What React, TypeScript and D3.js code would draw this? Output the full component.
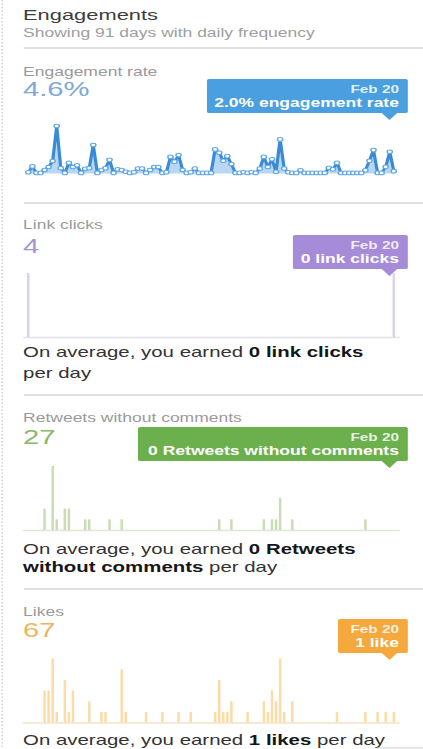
import * as d3 from "d3";

// The reference screenshot is stretched horizontally, so we draw in a narrower
// viewBox and let the svg stretch it back to 423px.
const VW = 290;
const VH = 749;

const DAY_COUNT = 91;
const lastDay = "Feb 20";

// Engagement rate (%) for each of the 91 days
const engagementRate = [
  1.0, 6.0, 0.5, 0.5, 3.0, 5.5, 10.5, 40, 4.5, 0.5,
  9.0, 5.5, 7.0, 0.5, 4.0, 4.5, 24.0, 0.5, 3.0, 4.5,
  11.5, 0.5, 3.5, 3.0, 1.5, 0.5, 1.0, 4.2, 4.2, 0.5,
  3.0, 5.5, 5.5, 0.5, 1.0, 14.0, 10.0, 15.5, 3.0, 0.5,
  1.0, 4.2, 0.5, 0.5, 0.5, 0.5, 20.3, 17.5, 10.7, 14.6,
  8.0, 0.5, 0.5, 1.0, 0.5, 1.0, 0.5, 4.2, 14.0, 5.5,
  12.0, 1.5, 28.7, 4.2, 1.0, 0.5, 0.5, 2.8, 0.5, 0.5,
  0.5, 0.5, 0.5, 0.5, 4.8, 3.5, 9.0, 0.5, 0.5, 0.5,
  0.5, 0.5, 0.5, 2.8, 10.7, 19.7, 0.5, 0.5, 5.6, 18.3,
  2.0,
];

// sparse daily counts: day index -> value
const linkClickDays = [0, 90];
const linkClickCounts = [2, 2];

const retweetDays = [4, 6, 7, 9, 10, 14, 15, 20, 23, 47, 50, 58, 60, 61, 62, 65, 83];
const retweetCounts = [2, 6, 1, 2, 2, 1, 1, 1, 1, 1, 1, 1, 1, 1, 3, 1, 1];

const likeDays = [4, 5, 6, 7, 9, 10, 11, 15, 18, 19, 23, 24, 29, 33, 37, 40, 46, 47, 48, 49, 50, 54, 58, 59, 60, 61, 62, 63, 65, 76, 83, 86, 88, 90];
const likeCounts = [3, 3, 6, 1, 4, 1, 3, 2, 1, 1, 5, 1, 1, 1, 1, 1, 1, 4, 1, 1, 2, 1, 2, 1, 3, 2, 6, 1, 2, 1, 1, 1, 1, 1];

const FONT = "Arial, 'Liberation Sans', Helvetica, sans-serif";

const x = d3.scaleLinear().domain([0, DAY_COUNT - 1]).range([19.4, 270]);

function dense(days: number[], counts: number[]) {
  const arr = new Array(DAY_COUNT).fill(0);
  days.forEach((d, i) => (arr[d] = counts[i]));
  return arr;
}

function Tooltip({ left, top, color, line1, line2 }: { left: number; top: number; color: string; line1: string; line2: string }) {
  const right = 279.6;
  const tip = x(DAY_COUNT - 1) - 3;
  const h = 34;
  return (
    <g>
      <rect x={left} y={top} width={right - left} height={h} rx={1.5} fill={color} />
      <path d={`M${tip - 5.7},${top + h - 0.5} L${tip + 5.7},${top + h - 0.5} L${tip},${top + h + 7} Z`} fill={color} />
      <text x={273.5} y={top + 14} textAnchor="end" fill="rgba(255,255,255,0.85)" fontSize={10.5} fontWeight="bold">{line1}</text>
      <text x={273.5} y={top + 28} textAnchor="end" fill="#fff" fontSize={12} fontWeight="bold">{line2}</text>
    </g>
  );
}

function Bars({ values, max, baseY, color, baseColor }: { values: number[]; max: number; baseY: number; color: string; baseColor: string }) {
  const y = d3.scaleLinear().domain([0, max]).range([baseY, baseY - 64]);
  return (
    <g>
      <line x1={15.8} x2={274} y1={baseY + 0.5} y2={baseY + 0.5} stroke={baseColor} strokeWidth={1.5} />
      {values.map((v, i) =>
        v > 0 ? (
          <rect key={i} x={x(i) - 0.85} y={y(v)} width={1.7} height={baseY - y(v)} fill={color} />
        ) : null
      )}
    </g>
  );
}

function Divider({ y }: { y: number }) {
  return <line x1={16.4} x2={VW} y1={y} y2={y} stroke="#d6d6d6" strokeWidth={1.5} />;
}

export default function App() {
  const ey = d3.scaleLinear().domain([0, 40]).range([173.5, 126]);
  const line = d3.line<number>().x((_, i) => x(i)).y((d) => ey(d));
  const area = d3.area<number>().x((_, i) => x(i)).y0(ey(0)).y1((d) => ey(d));

  const linkClicks = dense(linkClickDays, linkClickCounts);
  const retweets = dense(retweetDays, retweetCounts);
  const likes = dense(likeDays, likeCounts);

  const label = { fontSize: 12, fill: "#9a9a9a" };
  const avg = { fontSize: 14, fill: "#333" };

  return (
    <svg
      width={423}
      height={VH}
      viewBox={`0 0 ${VW} ${VH}`}
      preserveAspectRatio="none"
      style={{ position: "absolute", left: 0, top: 0, background: "#fff" }}
      fontFamily={FONT}
    >
      <line x1={1.5} x2={1.5} y1={0} y2={VH} stroke="#d0d0d0" strokeDasharray="1.5,2" />

      {/* header */}
      <text x={15.8} y={20} fontSize={15} fill="#3c3c3c">Engagements</text>
      <text x={15.8} y={37} fontSize={12} fill="#9e9e9e">Showing 91 days with daily frequency</text>
      <Divider y={48} />

      {/* engagement rate */}
      <text x={15.8} y={76} {...label}>Engagement rate</text>
      <text x={15.8} y={96} fontSize={20} fill="#7ea8d8">4.6%</text>
      <path d={area(engagementRate) ?? ""} fill="#4f9be0" opacity={0.4} />
      <path d={line(engagementRate) ?? ""} fill="none" stroke="#3a8bd6" strokeWidth={2.2} strokeLinejoin="round" />
      {engagementRate.map((v, i) => (
        <circle key={i} cx={x(i)} cy={ey(v)} r={1.8} fill="#fff" stroke="#62a8e4" strokeWidth={1} />
      ))}
      <Tooltip left={141.9} top={79} color="#4a9fe0" line1={lastDay} line2="2.0% engagement rate" />

      <Divider y={203} />

      {/* link clicks */}
      <text x={15.8} y={229.5} {...label}>Link clicks</text>
      <text x={15.8} y={253} fontSize={20} fill="#a595d4">4</text>
      <Bars values={linkClicks} max={2} baseY={337} color="#d8d2ea" baseColor="#e2e0e8" />
      <Tooltip left={200.8} top={235} color="#a68bd8" line1={lastDay} line2="0 link clicks" />
      <text x={15.8} y={357} {...avg}>
        On average, you earned <tspan fontWeight="bold" fill="#14171a">0 link clicks</tspan>
      </text>
      <text x={15.8} y={378} {...avg}>per day</text>

      <Divider y={395} />

      {/* retweets */}
      <text x={15.8} y={422} {...label}>Retweets without comments</text>
      <text x={15.8} y={444} fontSize={20} fill="#86b96b">27</text>
      <Bars values={retweets} max={6} baseY={530} color="#c8ddb4" baseColor="#dfe8d6" />
      <Tooltip left={94.6} top={427} color="#6cb04e" line1={lastDay} line2="0 Retweets without comments" />
      <text x={15.8} y={554} {...avg}>
        On average, you earned <tspan fontWeight="bold" fill="#14171a">0 Retweets</tspan>
      </text>
      <text x={15.8} y={572.5} {...avg}>
        <tspan fontWeight="bold" fill="#14171a">without comments</tspan> per day
      </text>

      <Divider y={589} />

      {/* likes */}
      <text x={15.8} y={616} {...label}>Likes</text>
      <text x={15.8} y={637} fontSize={20} fill="#efb461">67</text>
      <Bars values={likes} max={6} baseY={722.5} color="#fcdba5" baseColor="#f5e2c4" />
      <Tooltip left={231.7} top={619} color="#f5a83c" line1={lastDay} line2="1 like" />
      <text x={15.8} y={745} {...avg}>
        On average, you earned <tspan fontWeight="bold" fill="#14171a">1 likes</tspan> per day
      </text>
      <line x1={258} x2={VW} y1={748} y2={748} stroke="#cfcfcf" />
    </svg>
  );
}
